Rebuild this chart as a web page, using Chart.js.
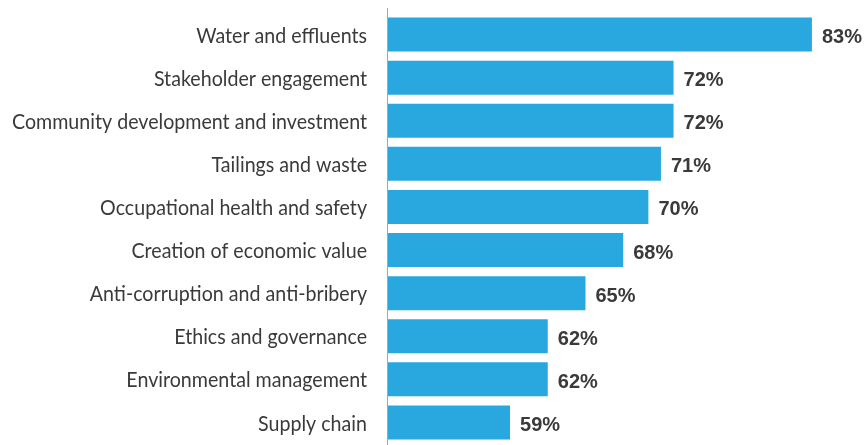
<!DOCTYPE html>
<html>
<head>
<meta charset="utf-8">
<script src="https://cdn.jsdelivr.net/npm/chart.js@4/dist/chart.umd.min.js"></script>
<style>
  html, body { margin: 0; padding: 0; background: #fff; }
  #wrap { width: 866px; height: 445px; }
</style>
</head>
<body>
<div id="wrap"><canvas id="chart"></canvas></div>
<script>
const CATEGORIES = [
  "Water and effluents",
  "Stakeholder engagement",
  "Community development and investment",
  "Tailings and waste",
  "Occupational health and safety",
  "Creation of economic value",
  "Anti-corruption and anti-bribery",
  "Ethics and governance",
  "Environmental management",
  "Supply chain",
];
const VALUES = [83, 72, 72, 71, 70, 68, 65, 62, 62, 59];

const BAR = "#29a8e0";
const TEXT = "#3a3a3a";
const LABEL_FONT = "22px Lato, sans-serif";

// category labels (condensed), value labels and the long axis line
const labelsPlugin = {
  id: "labelsPlugin",
  beforeDatasetsDraw(chart) {
    const ctx = chart.ctx;
    const left = chart.chartArea.left;
    ctx.save();
    ctx.strokeStyle = "#a6a6a6";
    ctx.lineWidth = 1;
    ctx.beginPath();
    ctx.moveTo(left - 0.5, 8);
    ctx.lineTo(left - 0.5, 445);
    ctx.stroke();

    // squeeze the label font so the longest one is as wide as in the original
    ctx.font = LABEL_FONT;
    const squeeze = 355 / ctx.measureText(CATEGORIES[2]).width;
    ctx.fillStyle = TEXT;
    ctx.textAlign = "right";
    ctx.textBaseline = "middle";
    const yScale = chart.scales.y;
    CATEGORIES.forEach((c, i) => {
      const y = yScale.getPixelForValue(i);
      ctx.save();
      ctx.translate(left - 21, y + 1);
      ctx.scale(squeeze, 1);
      ctx.fillText(c, 0, 0);
      ctx.restore();
    });
    ctx.restore();
  },
  afterDatasetsDraw(chart) {
    const ctx = chart.ctx;
    const meta = chart.getDatasetMeta(0);
    ctx.save();
    ctx.fillStyle = TEXT;
    ctx.font = "bold 20px 'Liberation Sans', Arial, sans-serif";
    ctx.textAlign = "left";
    ctx.textBaseline = "middle";
    meta.data.forEach((bar, i) => {
      ctx.fillText(VALUES[i] + "%", bar.x + 10, bar.y + 3);
    });
    ctx.restore();
  },
};

new Chart(document.getElementById("chart"), {
  type: "bar",
  data: {
    labels: CATEGORIES,
    datasets: [
      {
        data: VALUES,
        backgroundColor: BAR,
        barPercentage: 0.79,
        categoryPercentage: 1.0,
      },
    ],
  },
  options: {
    indexAxis: "y",
    responsive: true,
    maintainAspectRatio: false,
    animation: false,
    layout: { padding: { top: 13, bottom: 1, left: 0, right: 0 } },
    plugins: {
      legend: { display: false },
      tooltip: { enabled: false },
    },
    scales: {
      x: {
        min: 49.3,
        max: 87.3,
        display: false,
      },
      y: {
        afterFit(scale) {
          scale.width = 388;
          scale.paddingTop = 0;
          scale.paddingBottom = 0;
        },
        grid: { display: false, drawTicks: false },
        border: { display: false },
        ticks: { display: false },
      },
    },
  },
  plugins: [labelsPlugin],
});
</script>
</body>
</html>
